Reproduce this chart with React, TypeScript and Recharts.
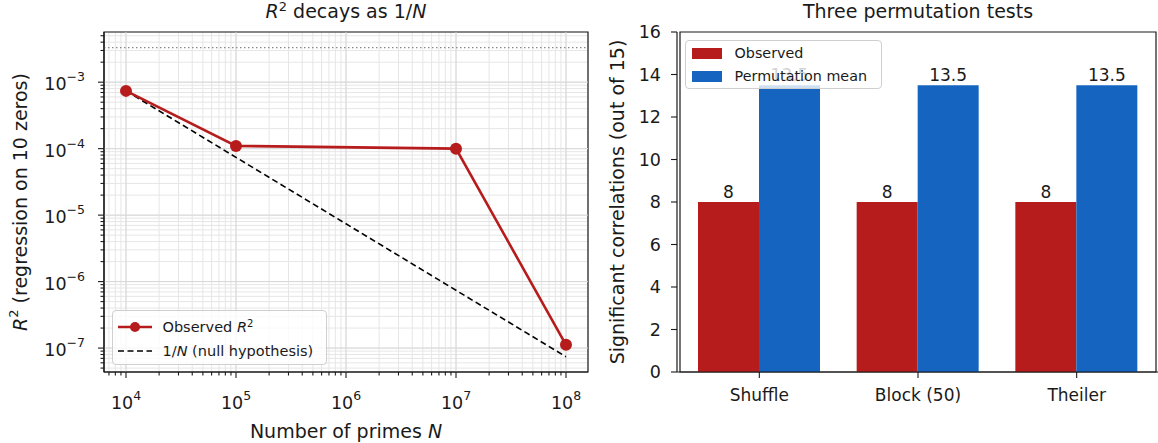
import React from 'react';
import {
  LineChart, Line, BarChart, Bar, XAxis, YAxis, CartesianGrid,
  ReferenceLine, ReferenceArea, Legend, Label, LabelList,
} from 'recharts';

const FONT = '"DejaVu Sans", sans-serif';
const INK = '#1a1a1a';
const RED = '#b71c1c';
const BLUE = '#1565c0';

// left panel: R^2 against number of primes
const primeCounts = [1e4, 1e5, 1e7, 1e8];
const observedR2 = [7.4e-4, 1.1e-4, 1.0e-4, 1.12e-7];
const nullR2 = [7.4e-4, 7.4e-5, 7.4e-7, 7.4e-8];
const dottedLevel = 3.3e-3;
const xDecades = [4, 5, 6, 7, 8];
const yDecades = [-7, -6, -5, -4, -3];

// right panel: permutation tests
const tests = ['Shuffle', 'Block (50)', 'Theiler'];
const observedCounts = [8, 8, 8];
const permutationMeans = [13.5, 13.5, 13.5];
const countTicks = [0, 2, 4, 6, 8, 10, 12, 14, 16];

const xDomain: [number, number] = [10 ** 3.8, 10 ** 8.2];
const yDomain: [number, number] = [10 ** -7.36, 10 ** -2.245];

const r2Data = primeCounts.map((n, i) => ({ n, observed: observedR2[i], nullFit: nullR2[i] }));
const testData = tests.map((test, i) => ({ test, observed: observedCounts[i], permMean: permutationMeans[i] }));

// 1..9 x 10^k inside the axis limits
const logTicks = (decades: number[], [lo, hi]: [number, number]) => {
  const out: number[] = [];
  for (let k = decades[0] - 1; k <= decades[decades.length - 1] + 1; k++) {
    for (let m = 1; m <= 9; m++) {
      const v = m * 10 ** k;
      if (v >= lo && v <= hi) out.push(v);
    }
  }
  return out;
};
const xTicks = logTicks(xDecades, xDomain);
const yTicks = logTicks(yDecades, yDomain);

const expOf = (v: number) => Math.round(Math.log10(v));
const isMajor = (v: number) => Math.abs(v / 10 ** expOf(v) - 1) < 1e-6;
const expText = (e: number) => (e < 0 ? '\u2212' + Math.abs(e) : String(e));

const LogXTick = (props: any) => {
  const { x, y, payload } = props;
  const v = payload.value;
  const major = isMajor(v);
  return (
    <g>
      <line x1={x} x2={x} y1={y} y2={y + (major ? 6 : 3.5)} stroke={INK} strokeWidth={1.1} />
      {major && (
        <text x={x} y={y + 37} textAnchor="middle" fontSize={17.5} fill={INK} fontFamily={FONT}>
          10<tspan fontSize={12.5} dy={-9}>{expText(expOf(v))}</tspan>
        </text>
      )}
    </g>
  );
};

const LogYTick = (props: any) => {
  const { x, y, payload } = props;
  const v = payload.value;
  const major = isMajor(v);
  return (
    <g>
      <line x1={x - (major ? 6 : 3.5)} x2={x} y1={y} y2={y} stroke={INK} strokeWidth={1.1} />
      {major && (
        <text x={x - 19} y={y + 8} textAnchor="end" fontSize={17.5} fill={INK} fontFamily={FONT}>
          10<tspan fontSize={12.5} dy={-9}>{expText(expOf(v))}</tspan>
        </text>
      )}
    </g>
  );
};

const leftTexts = () => (
  <g fontFamily={FONT} fill={INK}>
    <text x={346} y={17.5} textAnchor="middle" fontSize={19}>
      <tspan fontStyle="italic">R</tspan>
      <tspan fontSize={13} dy={-7}>2</tspan>
      <tspan dy={7}> decays as 1/</tspan>
      <tspan fontStyle="italic">N</tspan>
    </text>
    <text x={346} y={438} textAnchor="middle" fontSize={19}>
      Number of primes <tspan fontStyle="italic">N</tspan>
    </text>
    <text x={20} y={202} transform="rotate(-90, 20, 202)" textAnchor="middle" dominantBaseline="central" fontSize={19}>
      <tspan fontStyle="italic">R</tspan>
      <tspan fontSize={13} dy={-7}>2</tspan>
      <tspan dy={7}> (regression on 10 zeros)</tspan>
    </text>
  </g>
);

const rightTexts = () => (
  <g fontFamily={FONT} fill={INK}>
    <text x={318} y={17.5} textAnchor="middle" fontSize={19}>Three permutation tests</text>
    <text x={17} y={202} transform="rotate(-90, 17, 202)" textAnchor="middle" dominantBaseline="central" fontSize={19}>
      Significant correlations (out of 15)
    </text>
  </g>
);

const legendBox: React.CSSProperties = {
  boxSizing: 'border-box',
  background: 'rgba(255,255,255,0.8)',
  border: '1px solid #cfcfcf',
  borderRadius: 4,
  fontFamily: FONT,
  fontSize: 14.5,
  color: INK,
  position: 'relative',
};

const LeftLegend = () => (
  <div style={{ ...legendBox, width: 215, height: 55 }}>
    <div style={{ position: 'absolute', left: 4, top: 6, height: 20, display: 'flex', alignItems: 'center' }}>
      <svg width={36} height={20}>
        <line x1={1} x2={35} y1={10} y2={10} stroke={RED} strokeWidth={2.6} />
        <circle cx={18} cy={10} r={5} fill={RED} />
      </svg>
      <span style={{ marginLeft: 10 }}>
        Observed <i>R</i><sup style={{ fontSize: 10, verticalAlign: 5 }}>2</sup>
      </span>
    </div>
    <div style={{ position: 'absolute', left: 4, top: 30, height: 20, display: 'flex', alignItems: 'center' }}>
      <svg width={36} height={20}>
        <line x1={1} x2={35} y1={10} y2={10} stroke="#000" strokeWidth={1.6} strokeDasharray="6 3.5" />
      </svg>
      <span style={{ marginLeft: 10 }}>
        1/<i>N</i> (null hypothesis)
      </span>
    </div>
  </div>
);

const RightLegend = () => (
  <div style={{ ...legendBox, width: 197, height: 49, fontSize: 14.3 }}>
    {[{ name: 'Observed', color: RED }, { name: 'Permutation mean', color: BLUE }].map((d, i) => (
      <div key={d.name} style={{ position: 'absolute', left: 6, top: 2 + i * 23, height: 20, display: 'flex', alignItems: 'center' }}>
        <span style={{ display: 'inline-block', width: 30, height: 11, background: d.color }} />
        <span style={{ marginLeft: 13 }}>{d.name}</span>
      </div>
    ))}
  </div>
);

export default function App() {
  return (
    <div style={{ position: 'absolute', left: 0, top: 0, width: 1158, height: 443, background: '#fff', overflow: 'hidden' }}>
      <div style={{ position: 'absolute', left: 0, top: 0 }}>
        <LineChart width={600} height={443} data={r2Data} margin={{ top: 32, right: 12, bottom: 0, left: 0 }} style={{ fontFamily: FONT }}>
          <CartesianGrid stroke="#e6e6e6" strokeWidth={1} />
          {xDecades.map((k) => (
            <ReferenceLine key={'gx' + k} x={10 ** k} stroke="#d8d8d8" strokeWidth={1} />
          ))}
          {yDecades.map((k) => (
            <ReferenceLine key={'gy' + k} y={10 ** k} stroke="#d8d8d8" strokeWidth={1} />
          ))}
          <XAxis
            dataKey="n" type="number" scale="log" domain={xDomain} allowDataOverflow
            ticks={xTicks} interval={0} tick={<LogXTick />} tickLine={false} tickSize={0} tickMargin={0}
            axisLine={{ stroke: INK, strokeWidth: 1.2 }} height={71}
          >
            <Label content={leftTexts} />
          </XAxis>
          <YAxis
            type="number" scale="log" domain={yDomain} allowDataOverflow
            ticks={yTicks} interval={0} tick={<LogYTick />} tickLine={false} tickSize={0} tickMargin={0}
            axisLine={{ stroke: INK, strokeWidth: 1.2 }} width={104}
          />
          <ReferenceArea y1={yDomain[0]} y2={yDomain[1]} fill="none" stroke={INK} strokeWidth={1.2} />
          <ReferenceLine y={dottedLevel} stroke="#8a8a8a" strokeWidth={1.3} strokeDasharray="1.5 2.5" />
          <Line
            dataKey="nullFit" stroke="#000" strokeWidth={1.6} strokeDasharray="6 3.5"
            dot={false} activeDot={false} isAnimationActive={false}
          />
          <Line
            dataKey="observed" stroke={RED} strokeWidth={2.6}
            dot={{ r: 6, fill: RED, stroke: RED, strokeWidth: 0 }} activeDot={false} isAnimationActive={false}
          />
          <Legend
            layout="horizontal" verticalAlign="middle" align="center"
            content={() => <LeftLegend />}
            wrapperStyle={{ left: 111.5, top: 309.5, width: 215, height: 55 }}
          />
        </LineChart>
      </div>
      <div style={{ position: 'absolute', left: 600, top: 0 }}>
        <BarChart
          width={559} height={443} data={testData} margin={{ top: 32, right: 0, bottom: 0, left: 0 }}
          barSize={61} barGap={0} style={{ fontFamily: FONT }}
        >
          <XAxis
            dataKey="test" height={71} padding={{ left: 3, right: 3 }}
            tick={{ fontSize: 17, fill: INK }} tickSize={6} tickMargin={11}
            tickLine={{ stroke: INK, strokeWidth: 1.1 }} axisLine={{ stroke: INK, strokeWidth: 1.2 }}
          >
            <Label content={rightTexts} />
          </XAxis>
          <YAxis
            type="number" domain={[0, 16]} ticks={countTicks} interval={0} width={77}
            tick={{ fontSize: 17.5, fill: INK }} tickSize={6} tickMargin={10}
            tickLine={{ stroke: INK, strokeWidth: 1.1 }} axisLine={{ stroke: INK, strokeWidth: 1.2 }}
          />
          <ReferenceArea y1={0} y2={16} fill="none" stroke={INK} strokeWidth={1.2} />
          <Bar dataKey="observed" fill={RED} isAnimationActive={false}>
            <LabelList dataKey="observed" position="top" offset={4} fill={INK} fontSize={17} fontFamily={FONT} />
          </Bar>
          <Bar dataKey="permMean" fill={BLUE} isAnimationActive={false}>
            <LabelList dataKey="permMean" position="top" offset={4} fill={INK} fontSize={17} fontFamily={FONT} />
          </Bar>
          <Legend
            layout="horizontal" verticalAlign="middle" align="center"
            content={() => <RightLegend />}
            wrapperStyle={{ left: 84.6, top: 40, width: 197, height: 49 }}
          />
        </BarChart>
      </div>
    </div>
  );
}
